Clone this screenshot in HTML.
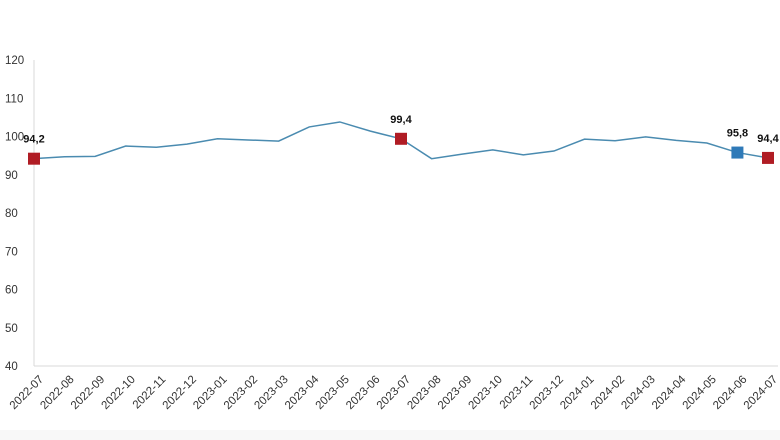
<!DOCTYPE html>
<html><head><meta charset="utf-8"><style>
html,body{margin:0;padding:0;background:#fff;}
svg{display:block;font-family:"Liberation Sans",sans-serif;}
</style></head><body>
<svg id="chart" width="780" height="440">
<rect x="0" y="430" width="780" height="10" fill="#f8f8f8"/>
<g id="yaxis"></g>
<g id="xaxis"></g>
<g id="series"></g>
</svg>
<script>
const categories=["2022-07","2022-08","2022-09","2022-10","2022-11","2022-12","2023-01","2023-02","2023-03","2023-04","2023-05","2023-06","2023-07","2023-08","2023-09","2023-10","2023-11","2023-12","2024-01","2024-02","2024-03","2024-04","2024-05","2024-06","2024-07"];
const values=[94.2,94.7,94.8,97.5,97.2,98.0,99.4,99.1,98.8,102.5,103.8,101.4,99.4,94.2,95.4,96.5,95.2,96.2,99.3,98.9,99.9,99.0,98.3,95.8,94.4];
const yTicks=[40,50,60,70,80,90,100,110,120];
const highlights=[{i:0,label:"94,2",color:"#b01c24"},{i:12,label:"99,4",color:"#b01c24"},{i:23,label:"95,8",color:"#2f7ab8"},{i:24,label:"94,4",color:"#b01c24"}];
const NS="http://www.w3.org/2000/svg";
const x0=34,x1=768,yTop=60,yBot=366;
const xs=i=>x0+(x1-x0)*i/(categories.length-1);
const ys=v=>yBot-(v-40)/80*(yBot-yTop);
function mk(t,a,p){const e=document.createElementNS(NS,t);for(const k in a)e.setAttribute(k,a[k]);p.appendChild(e);return e;}
const ya=document.getElementById('yaxis'),xa=document.getElementById('xaxis'),se=document.getElementById('series');
let l=mk('line',{x1:x0,x2:x0,y1:yTop,y2:yBot,stroke:'#d9d9d9','stroke-width':1},ya);


l=mk('line',{x1:x0,x2:778,y1:yBot,y2:yBot,stroke:'#d9d9d9','stroke-width':1},xa);


yTicks.forEach(v=>{const t=mk('text',{x:5,y:ys(v)+4,'font-size':11.5,fill:'#333'},ya);t.textContent=v;

});
categories.forEach((c,i)=>{const x=xs(i)+10,y=380;const t=mk('text',{x:x,y:y,'font-size':11.5,fill:'#333','text-anchor':'end',transform:`rotate(-45 ${x} ${y})`},xa);t.textContent=c;

});
const p=mk('polyline',{points:values.map((v,i)=>xs(i)+','+ys(v)).join(' '),fill:'none',stroke:'#4a8bb0','stroke-width':1.5},se);


highlights.forEach(h=>{const x=xs(h.i),y=ys(values[h.i]);
const r=mk('rect',{x:x-6,y:y-6,width:12,height:12,fill:h.color},se);


const t=mk('text',{x:x,y:y-16,'font-size':11,'font-weight':'bold',fill:'#111','text-anchor':'middle'},se);t.textContent=h.label;

});
</script>
</body></html>
